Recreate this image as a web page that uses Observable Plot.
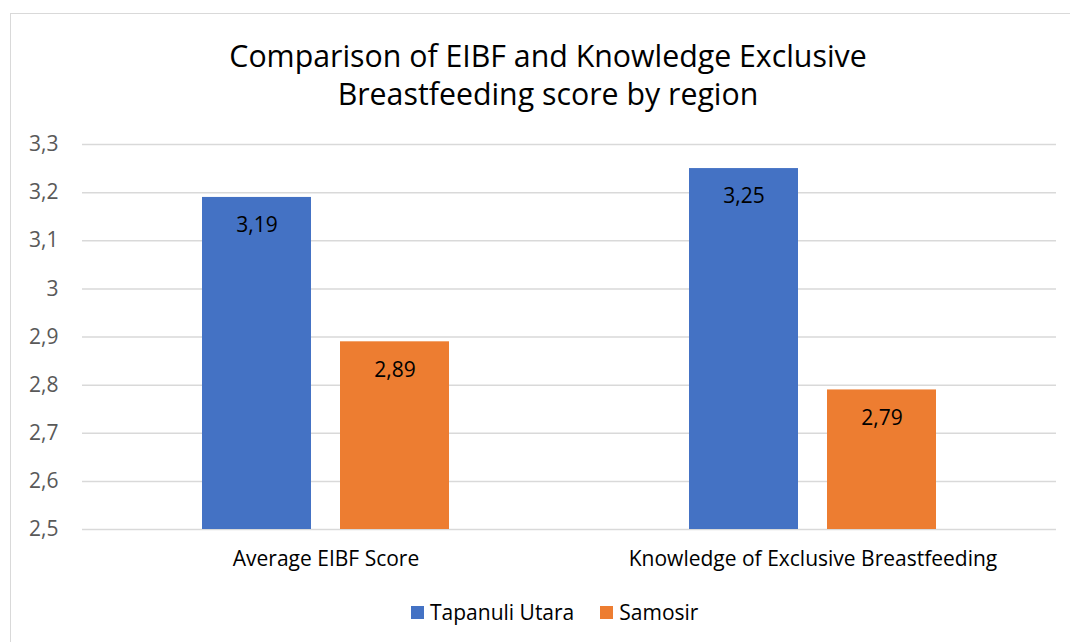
<!DOCTYPE html>
<html>
<head>
<meta charset="utf-8">
<script src="https://cdn.jsdelivr.net/npm/d3@7"></script>
<script src="https://cdn.jsdelivr.net/npm/@observablehq/plot@0.6"></script>
<style>
  html, body { margin: 0; padding: 0; background: #fff; }
  body { width: 1070px; height: 642px; position: relative; overflow: hidden; font-family: "Open Sans", "Noto Sans", sans-serif; }
  #frame { position: absolute; left: 10px; top: 13px; width: 1070px; height: 640px; border-left: 1.5px solid #d9d9d9; border-top: 1.5px solid #d9d9d9; }
  #title { position: absolute; left: 0; top: 37px; width: 1096px; text-align: center; font-size: 30.3px; line-height: 38px; color: #000; z-index: 2; }
  #chart { position: absolute; left: 0; top: 0; z-index: 1; }
  #legend { position: absolute; top: 598px; left: 411px; display: flex; align-items: center; font-size: 21px; color: #000; z-index: 2; }
  .sw { width: 13px; height: 13px; display: inline-block; margin-right: 6px; }
  .item { display: flex; align-items: center; margin-right: 26px; }
</style>
</head>
<body>
<div id="frame"></div>
<div id="title">Comparison of EIBF and Knowledge Exclusive<br>Breastfeeding score by region</div>
<div id="chart"></div>
<div id="legend"></div>
<script>
const categories = ["Average EIBF Score", "Knowledge of Exclusive Breastfeeding"];
const seriesNames = ["Tapanuli Utara", "Samosir"];
const tapanuliUtara = [3.19, 3.25];
const samosir = [2.89, 2.79];
const seriesColors = ["#4472c4", "#ed7d31"];
const yTicks = [2.5, 2.6, 2.7, 2.8, 2.9, 3.0, 3.1, 3.2, 3.3];
const yMin = 2.5, yMax = 3.3;

const fmt = d => String(d).replace(".", ",");

const data = [];
categories.forEach((c, i) => {
  data.push({cat: c, series: seriesNames[0], value: tapanuliUtara[i]});
  data.push({cat: c, series: seriesNames[1], value: samosir[i]});
});

const chart = Plot.plot({
  width: 1070,
  height: 600,
  marginTop: 144,
  marginBottom: 71,
  marginLeft: 81,
  marginRight: 14,
  style: { fontFamily: '"Open Sans", "Noto Sans", sans-serif', fontSize: "21px", background: "transparent", color: "#000" },
  fx: { domain: categories, padding: 0, label: null, tickSize: 0, tickPadding: 22 },
  x: { domain: seriesNames, axis: null, paddingInner: 0.209, paddingOuter: 0.858 },
  y: { domain: [yMin, yMax], ticks: yTicks, tickFormat: fmt, tickSize: 0, tickPadding: 24, label: null },
  color: { domain: seriesNames, range: seriesColors },
  marks: [
    Plot.ruleY(yTicks, { stroke: "#d9d9d9", strokeWidth: 1.5 }),
    Plot.barY(data, { fx: "cat", x: "series", y1: yMin, y2: "value", fill: "series" }),
    Plot.text(data, { fx: "cat", x: "series", y: "value", text: d => fmt(d.value), dy: 28, fill: "#000", fontSize: 21 })
  ]
});
d3.select(chart).selectAll("[aria-label='y-axis tick label'] text, [aria-label='y-axis'] text").attr("fill", "#595959");
document.getElementById("chart").appendChild(chart);

const legend = document.getElementById("legend");
seriesNames.forEach((s, i) => {
  const it = document.createElement("div");
  it.className = "item";
  const sw = document.createElement("span");
  sw.className = "sw";
  sw.style.background = seriesColors[i];
  const t = document.createElement("span");
  t.textContent = s;
  it.appendChild(sw); it.appendChild(t);
  legend.appendChild(it);
});
</script>
</body>
</html>
